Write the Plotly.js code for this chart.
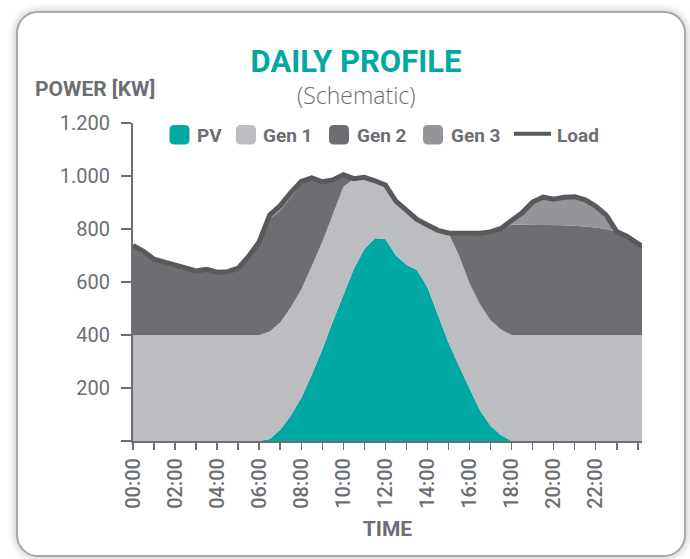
<!DOCTYPE html>
<html>
<head>
<meta charset="utf-8">
<script src="https://cdn.plot.ly/plotly-3.0.1.min.js"></script>
<style>
  html, body { margin:0; padding:0; background:#ffffff; width:690px; height:559px; overflow:hidden; }
  #card { position:absolute; left:16px; top:11px; width:670px; height:546px; box-sizing:border-box;
          border:2px solid #a6a7a9; border-radius:22px; background:#ffffff;
          box-shadow:0 0 7px 2px rgba(0,0,0,0.18); }
  #chart { position:absolute; left:0; top:0; width:690px; height:559px; }
</style>
</head>
<body>
<div id="card"></div>
<div id="chart"></div>
<script>
// ---- data (hours of day, power in kW) ----
const hours = [0,0.5,1,1.5,2,2.5,3,3.5,4,4.5,5,5.5,6,6.5,7,7.5,8,8.5,9,9.5,10,10.5,11,11.5,12,12.5,13,13.5,14,14.5,15,15.5,16,16.5,17,17.5,18,18.5,19,19.5,20,20.5,21,21.5,22,22.5,23,23.5,24,24.2];
const pv   = [0,0,0,0,0,0,0,0,0,0,0,0,0,8,42,95,162,250,345,451,553,650,725,765,762,700,665,645,580,476,372,283,198,115,58,22,0,0,0,0,0,0,0,0,0,0,0,0,0,0];
const gen1 = [400,400,400,400,400,400,400,400,400,400,400,400,400,405,405,410,410,410,407,404,406,340,270,217,204,205,206,191,235,319,413,417,397,400,398,399,400,400,400,400,400,400,400,400,400,400,400,400,400,400];
const gen2 = [338,316,286,274,265,250,242,248,237,239,252,297,352,425,423,414,398,333,226,130,46,0,0,0,0,0,0,0,0,0,0,84,186,269,333,381,416,416,416,415,415,414,412,410,406,400,390,372,345,336];
const gen3 = [0,0,0,0,0,0,0,0,0,0,0,0,0,15,18,18,10,0,0,0,0,0,0,0,0,0,0,0,0,0,0,0,0,0,0,0,16,45,86,105,97,106,110,100,80,52,0,0,0,0];
const load = [738,716,686,674,665,650,642,648,637,639,652,697,752,853,888,937,980,993,978,985,1005,990,995,982,966,905,871,836,815,795,785,784,781,784,789,802,832,861,902,920,912,920,922,910,886,852,790,772,745,736];

const seriesNames = ['PV','Gen 1','Gen 2','Gen 3','Load'];
const yTickVals = [0,200,400,600,800,1000,1200];
const yTickText = ['','200','400','600','800','1.000','1.200'];
const xTickVals = [0,1,2,3,4,5,6,7,8,9,10,11,12,13,14,15,16,17,18,19,20,21,22,23,24];
const xTickText = ['00:00','','02:00','','04:00','','06:00','','08:00','','10:00','','12:00','','14:00','','16:00','','18:00','','20:00','','22:00','',''];

// ---- styles ----
const C = { pv:'#00a8a4', gen1:'#bcbdc0', gen2:'#6d6e71', gen3:'#939598', load:'#58595b', text:'#6d6e71' };
const FONT = 'Roboto, "Open Sans", sans-serif';

// plot area geometry (pixels)
const L = 133, R = 48, T = 123, B = 118, W = 690, H = 559;
const PW = W - L - R, PH = H - T - B;
const px = x => (x - L) / PW;           // pixel -> paper x
const py = y => (H - B - y) / PH;       // pixel -> paper y

function area(y, name, color) {
  return { x: hours, y: y, name: name, type: 'scatter', mode: 'lines', stackgroup: 'one',
           fillcolor: color, line: { width: 0, color: color, shape: 'linear' }, hoverinfo: 'skip', showlegend: false };
}
const traces = [
  area(pv, seriesNames[0], C.pv),
  area(gen1, seriesNames[1], C.gen1),
  area(gen2, seriesNames[2], C.gen2),
  area(gen3, seriesNames[3], C.gen3),
  { x: hours, y: load, name: seriesNames[4], type: 'scatter', mode: 'lines',
    line: { color: C.load, width: 5, shape: 'linear' }, hoverinfo: 'skip', showlegend: false }
];

// legend drawn manually (rounded swatches)
function roundRect(x0, y0, x1, y1, r) {
  const p = (x, y) => px(x).toFixed(5) + ',' + py(y).toFixed(5);
  return 'M' + p(x0 + r, y0) + ' L' + p(x1 - r, y0) + ' Q' + p(x1, y0) + ' ' + p(x1, y0 + r) +
         ' L' + p(x1, y1 - r) + ' Q' + p(x1, y1) + ' ' + p(x1 - r, y1) +
         ' L' + p(x0 + r, y1) + ' Q' + p(x0, y1) + ' ' + p(x0, y1 - r) +
         ' L' + p(x0, y0 + r) + ' Q' + p(x0, y0) + ' ' + p(x0 + r, y0) + ' Z';
}
const legendItems = [
  { sw: 169.5, tx: 195, color: C.pv },
  { sw: 236,   tx: 261, color: C.gen1 },
  { sw: 329,   tx: 355, color: C.gen2 },
  { sw: 423,   tx: 449, color: C.gen3 }
];
const shapes = legendItems.map(it => ({
  type: 'path', xref: 'paper', yref: 'paper', path: roundRect(it.sw, 125, it.sw + 20, 144.5, 5),
  fillcolor: it.color, line: { width: 0 }
}));
shapes.push({ type: 'line', xref: 'paper', yref: 'paper', x0: px(514), x1: px(551), y0: py(133.7), y1: py(133.7),
              line: { color: C.load, width: 4 } });

const annotations = [];
legendItems.forEach((it, i) => annotations.push({
  xref: 'paper', yref: 'paper', x: px(it.tx), y: py(135.5), xanchor: 'left', yanchor: 'middle',
  text: seriesNames[i], showarrow: false, font: { family: FONT, size: 19, weight: 700, color: C.text }
}));
annotations.push({ xref: 'paper', yref: 'paper', x: px(555), y: py(135.5), xanchor: 'left', yanchor: 'middle',
  text: seriesNames[4], showarrow: false, font: { family: FONT, size: 19, weight: 700, color: C.text } });
annotations.push({ xref: 'paper', yref: 'paper', x: px(356.5), y: py(95), xanchor: 'center', yanchor: 'middle',
  text: '(Schematic)', showarrow: false, font: { family: '"Open Sans", sans-serif', size: 23, weight: 300, color: C.text } });
annotations.push({ xref: 'paper', yref: 'paper', x: px(95), y: py(88.5), xanchor: 'center', yanchor: 'middle',
  text: 'POWER [KW]', showarrow: false, font: { family: FONT, size: 21, weight: 700, color: C.text } });

const layout = {
  width: W, height: H,
  margin: { l: L, r: R, t: T, b: B },
  paper_bgcolor: 'rgba(0,0,0,0)', plot_bgcolor: 'rgba(0,0,0,0)',
  showlegend: false,
  title: { text: 'DAILY PROFILE', xref: 'container', yref: 'container', x: 356 / W, y: 1 - 61 / H,
           xanchor: 'center', yanchor: 'middle', font: { family: FONT, size: 31, weight: 700, color: C.pv } },
  xaxis: {
    range: [0, 24.2], tickmode: 'array', tickvals: xTickVals, ticktext: xTickText, tickangle: -90,
    ticks: 'outside', ticklen: 7, tickwidth: 1.5, tickcolor: C.gen2,
    showline: true, linecolor: C.gen2, linewidth: 2, showgrid: false, zeroline: false,
    tickfont: { family: FONT, size: 20, color: C.text, weight: 500 },
    title: { text: 'TIME', standoff: 14, font: { family: FONT, size: 21, weight: 700, color: C.text } },
    fixedrange: true
  },
  yaxis: {
    range: [0, 1200], tickmode: 'array', tickvals: yTickVals, ticktext: yTickText,
    ticks: 'outside', ticklen: 10, tickwidth: 2, tickcolor: C.gen2, ticklabelstandoff: 7,
    showline: true, linecolor: C.gen2, linewidth: 2, showgrid: false, zeroline: false,
    tickfont: { family: FONT, size: 20, color: C.text },
    fixedrange: true
  },
  shapes: shapes,
  annotations: annotations
};

Plotly.newPlot('chart', traces, layout, { displayModeBar: false, staticPlot: true });
</script>
</body>
</html>
